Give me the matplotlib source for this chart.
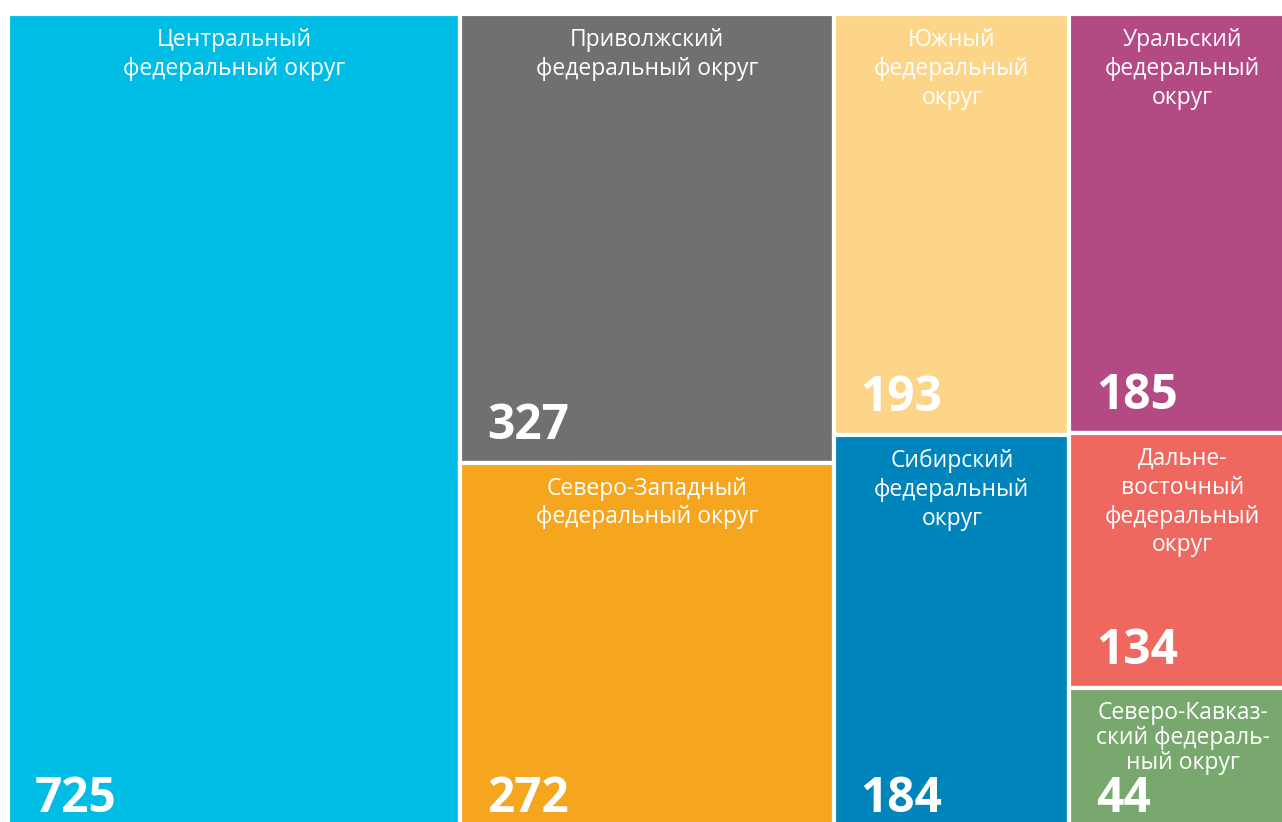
import matplotlib
matplotlib.use("Agg")
import matplotlib.pyplot as plt
from matplotlib.patches import Rectangle

# Federal districts, values and colours
labels = [
    "Центральный\nфедеральный округ",
    "Приволжский\nфедеральный округ",
    "Северо-Западный\nфедеральный округ",
    "Южный\nфедеральный\nокруг",
    "Сибирский\nфедеральный\nокруг",
    "Уральский\nфедеральный\nокруг",
    "Дальне-\nвосточный\nфедеральный\nокруг",
    "Северо-Кавказ-\nский федераль-\nный округ",
]
values = [725, 327, 272, 193, 184, 185, 134, 44]
colors = ["#00BDE6", "#707072", "#F6A61E", "#FDD589",
          "#0084BC", "#B44A84", "#EF6860", "#79A86E"]
# which districts are stacked together in each column
columns = [[0], [1, 2], [3, 4], [5, 6, 7]]
MIN_SHARE = 0.18  # smallest cell still gets room for its label

W, H = 1282, 822
fig = plt.figure(figsize=(W / 100, H / 100), dpi=100)
# treemap area: x 8..1296 px, y 14..836 px (right and bottom cropped)
ax = fig.add_axes([8 / W, -14 / H, 1288 / W, 822 / H])
ax.set_xlim(0, 1)
ax.set_ylim(1, 0)
ax.axis("off")

total = sum(values)
x = 0.0
for col in columns:
    col_sum = sum(values[i] for i in col)
    w = col_sum / total
    shares = [values[i] / col_sum for i in col]
    tight = [False] * len(shares)
    # enlarge tiny cells, taking the room from the cell above
    for k in range(1, len(shares)):
        if shares[k] < MIN_SHARE:
            shares[k - 1] -= MIN_SHARE - shares[k]
            shares[k] = MIN_SHARE
            tight[k] = True
    y = 0.0
    for i, h, t in zip(col, shares, tight):
        ax.add_patch(Rectangle((x, y), w, h, facecolor=colors[i],
                               edgecolor="white", linewidth=3.0))
        ax.annotate(labels[i], (x + w / 2, y), xytext=(0, -9 if t else -10),
                    textcoords="offset points", ha="center", va="top",
                    color="white", fontsize=16.5, family="Open Sans",
                    linespacing=1.08 if t else 1.27)
        ax.annotate(str(values[i]), (x, y + h), xytext=(19, 17),
                    textcoords="offset points", ha="left", va="baseline",
                    color="white", fontsize=34.5, fontweight="bold",
                    family="Open Sans")
        y += h
    x += w

fig.savefig("out.png", dpi=100)
